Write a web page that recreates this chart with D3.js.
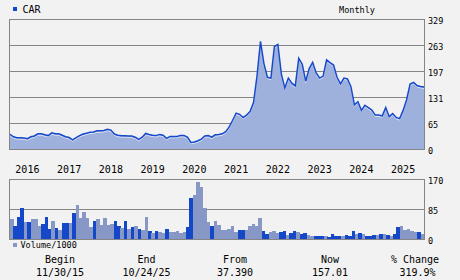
<!DOCTYPE html>
<html><head><meta charset="utf-8">
<script src="https://cdn.jsdelivr.net/npm/d3@7"></script>
<style>
html,body{margin:0;padding:0;background:#f2f2f2;}
svg{display:block;}
text{font-family:"DejaVu Sans Mono",monospace;fill:#000;}
</style></head>
<body>
<script>
const ticker = "CAR";
const period = "Monthly";
// months Nov 2015 .. Oct 2025
const months = d3.timeMonth.range(new Date(2015,10,1), new Date(2025,10,1));
const priceValues = [37.4,31,28.5,28.5,28,26,31,33,38.5,38.5,36,34,41,38.5,38.5,35,31,29,23.4,29,
34,38,40,42.8,43,46,46,47,50,48,38,35,33.5,33.5,33,32.7,30,24.4,30,39.5,
37,35,34,37,35,27,32,32,32,34.5,34.5,30,16.5,18,21,25,33,34,30,36,
37,38.5,44,56,73,91,88,80,86,95,118,185,273,216,182,180,260,265,190,155,
180,167,160,230,215,172,204,220,193,180,185,226,219,213,182,165,180,178,158,112,
120,98,111,105,99,86,86,84,105,82,90,80,77,98,125,165,169,161,158.7,157.01];
const volumeValues = [57,37,63,88,48,48,57,57,37,43,63,29,51,31,26,46,46,46,74,97,
60,78,60,34,51,57,40,60,40,43,51,37,31,51,28,34,37,28,26,63,
23,17,23,20,17,28.5,20,20,23,17,20,34,117,125,162,148,88,48,37,51,
40,26,26,28.5,37,20,26,26,26,37,43,37,60,23,14,20,23,17,20,23,
11,17,23,20,14,17,11,8.5,8.5,8.5,8.5,8.5,5.7,14,8.5,8.5,8.5,11.4,8.5,23,
14,17,14,8.5,8.5,11.4,11.4,14,14,11.4,8.5,14,34,37,26,28.5,23,21,20,14];
// 1 = down month (dark blue bar), 0 = up month (light bar)
const volumeDown = [0,1,1,1,0,1,0,0,0,1,1,1,0,1,0,1,1,0,1,0,
0,0,0,0,1,0,0,0,0,0,1,1,0,1,0,1,0,1,0,0,
1,0,1,0,0,1,0,0,0,0,0,1,1,0,0,0,0,0,1,0,
0,0,0,0,0,0,1,1,0,0,0,0,0,1,1,0,0,0,1,1,
0,1,1,0,1,1,0,0,1,1,1,0,1,1,1,1,0,1,1,1,
0,1,0,1,1,1,0,1,0,1,0,1,1,0,0,0,0,0,1,0];
const priceTicks = [0,65,131,197,263,329];
const volumeTicks = [0,85,170];
const yearLabels = ["2016","2017","2018","2019","2020","2021","2022","2023","2024","2025"];
const footerLabels = ["Begin","End","From","Now","% Change"];
const footerValues = ["11/30/15","10/24/25","37.390","157.01","319.9%"];

const W=460,H=280;
const svg=d3.select("body").append("svg").attr("width",W).attr("height",H);
svg.append("rect").attr("width",W).attr("height",H).attr("fill","#f2f2f2");

const L=10,R=424;
const keys = months.map(d=>d3.timeFormat("%Y-%m")(d));
const x = d3.scalePoint().domain(keys).range([L,R]);
const xb = d3.scaleBand().domain(keys).range([L,R]).padding(0);
const y = d3.scaleLinear().domain([0,329]).range([149,19.3]);
const yv = d3.scaleLinear().domain([0,170]).range([239,179.3]);

const gridColor="#858585";
// price panel grid
const gp=svg.append("g");
priceTicks.forEach(t=>{
  gp.append("line").attr("x1",L).attr("x2",R).attr("y1",Math.round(y(t))+0.5).attr("y2",Math.round(y(t))+0.5)
   .attr("stroke",gridColor).attr("stroke-width",1);
});
// area + line
const pdata = keys.map((k,i)=>({k,v:priceValues[i]}));
svg.append("path").datum(pdata)
 .attr("d",d3.area().x(d=>x(d.k)).y0(y(0)).y1(d=>y(d.v)))
 .attr("fill","#9eb0dc");
svg.append("path").datum(pdata)
 .attr("d",d3.line().x(d=>x(d.k)).y(d=>y(d.v)+1.4))
 .attr("fill","none").attr("stroke","#ffffff").attr("stroke-width",0.8).attr("opacity",0.8);
svg.append("path").datum(pdata)
 .attr("d",d3.line().x(d=>x(d.k)).y(d=>y(d.v)))
 .attr("fill","none").attr("stroke","#1749cc").attr("stroke-width",1.5);
// price frame
svg.append("rect").attr("x",L-0.5).attr("y",Math.round(y(329))+0.5).attr("width",R-L+1).attr("height",Math.round(y(0))-Math.round(y(329)))
 .attr("fill","none").attr("stroke",gridColor);
// price axis labels
const ya = d3.axisRight(y).tickValues(priceTicks).tickSize(0).tickPadding(0);
const gya = svg.append("g").attr("transform",`translate(428,1.6)`).call(ya);
gya.select(".domain").remove();
gya.selectAll("text").attr("font-size","8.5px").attr("font-family","DejaVu Sans Mono").attr("text-anchor","start").attr("fill","#000");

// year labels (centered at April of each year)
svg.append("g").selectAll("text").data(yearLabels).join("text")
 .attr("x",d=>x(d+"-04")).attr("y",173).attr("text-anchor","middle").attr("font-size","10px").text(d=>d);

// volume grid
volumeTicks.forEach(t=>{
  svg.append("line").attr("x1",L).attr("x2",R).attr("y1",Math.round(yv(t))+0.5).attr("y2",Math.round(yv(t))+0.5)
   .attr("stroke",gridColor);
});
svg.append("g").selectAll("rect").data(keys).join("rect")
 .attr("x",d=>xb(d)).attr("width",xb.bandwidth()+0.1)
 .attr("y",(d,i)=>yv(volumeValues[i])).attr("height",(d,i)=>yv(0)-yv(volumeValues[i]))
 .attr("fill",(d,i)=>volumeDown[i]?"#1448c8":"#8798c6").attr("shape-rendering","crispEdges");
svg.append("rect").attr("x",L-0.5).attr("y",Math.round(yv(170))+0.5).attr("width",R-L+1).attr("height",Math.round(yv(0))-Math.round(yv(170)))
 .attr("fill","none").attr("stroke",gridColor);
const yva = d3.axisRight(yv).tickValues(volumeTicks).tickSize(0).tickPadding(0);
const gyva = svg.append("g").attr("transform",`translate(428,1.6)`).call(yva);
gyva.select(".domain").remove();
gyva.selectAll("text").attr("font-size","8.5px").attr("font-family","DejaVu Sans Mono").attr("text-anchor","start").attr("fill","#000");

// legends
svg.append("rect").attr("x",13).attr("y",7).attr("width",4).attr("height",4).attr("fill","#1448c8");
svg.append("text").attr("x",22.5).attr("y",13).attr("font-size","10px").text(ticker);
svg.append("text").attr("x",357).attr("y",12.5).attr("text-anchor","middle").attr("font-size","8.5px").text(period);
svg.append("rect").attr("x",13).attr("y",243).attr("width",4).attr("height",4).attr("fill","#8798c6");
svg.append("text").attr("x",20.5).attr("y",248).attr("font-size","8.5px").text("Volume/1000");

// footer
const fx=[60,146.5,235,330,415];
svg.append("g").selectAll("text").data(footerLabels).join("text")
 .attr("x",(d,i)=>fx[i]).attr("y",263).attr("text-anchor","middle").attr("font-size","10px").text(d=>d);
svg.append("g").selectAll("text").data(footerValues).join("text")
 .attr("x",(d,i)=>fx[i]+(i==4?2.5:0)).attr("y",276).attr("text-anchor","middle").attr("font-size","10px").text(d=>d);
</script>
</body></html>
